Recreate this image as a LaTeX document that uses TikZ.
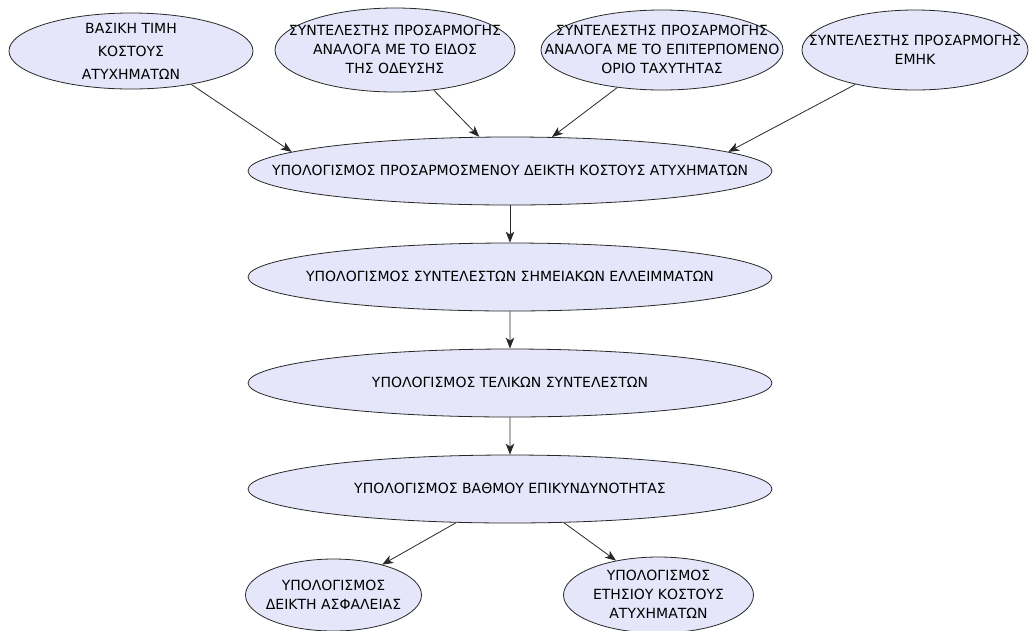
\documentclass[tikz,border=0pt]{standalone}
\usepackage{fontspec}
\setmainfont{DejaVu Sans}
\usetikzlibrary{trees,shapes.geometric,arrows.meta}
\definecolor{ovalfill}{RGB}{230,230,250}
\definecolor{ovalline}{RGB}{40,40,40}
\newcommand{\ovaltext}[1]{\makebox[0pt]{\smash{\raisebox{-0.33em}{\begin{tabular}{@{}c@{}}#1\end{tabular}}}}}

\begin{document}
\begin{tikzpicture}[x=1pt, y=-1pt, level distance=106pt,
  oval/.style={ellipse, draw=ovalline, fill=ovalfill, line width=0.8pt, inner sep=0pt,
    font=\fontsize{14}{19}\selectfont},
  wide/.style={oval, minimum width=524pt, minimum height=68pt},
  leaf/.style={oval, xshift=-14pt},
  arr/.style={draw=ovalline, line width=0.8pt, -{Stealth[length=11pt,width=8.5pt,inset=3pt]}},
  edge from parent/.style={arr},
  level 4/.style={sibling distance=325pt}]
  \useasboundingbox (0,0) rectangle (1030,630);
  \node[oval, minimum width=244pt, minimum height=76pt, font=\fontsize{14}{23}\selectfont] (base) at (131,51)
    {\ovaltext{ΒΑΣΙΚΗ ΤΙΜΗ\\ΚΟΣΤΟΥΣ\\ΑΤΥΧΗΜΑΤΩΝ}};
  \node[oval, minimum width=240pt, minimum height=84pt] (trip) at (395,50)
    {\ovaltext{ΣΥΝΤΕΛΕΣΤΗΣ ΠΡΟΣΑΡΜΟΓΗΣ\\ΑΝΑΛΟΓΑ ΜΕ ΤΟ ΕΙΔΟΣ\\ΤΗΣ ΟΔΕΥΣΗΣ}};
  \node[oval, minimum width=242pt, minimum height=80pt] (speed) at (662,50)
    {\ovaltext{ΣΥΝΤΕΛΕΣΤΗΣ ΠΡΟΣΑΡΜΟΓΗΣ\\ΑΝΑΛΟΓΑ ΜΕ ΤΟ ΕΠΙΤΕΡΠΟΜΕΝΟ\\ΟΡΙΟ ΤΑΧΥΤΗΤΑΣ}};
  \node[oval, minimum width=226pt, minimum height=80pt] (emhk) at (915,50)
    {\ovaltext{ΣΥΝΤΕΛΕΣΤΗΣ ΠΡΟΣΑΡΜΟΓΗΣ\\ΕΜΗΚ}};
  \node[wide] (adjidx) at (510,171) {\ovaltext{ΥΠΟΛΟΓΙΣΜΟΣ ΠΡΟΣΑΡΜΟΣΜΕΝΟΥ ΔΕΙΚΤΗ ΚΟΣΤΟΥΣ ΑΤΥΧΗΜΑΤΩΝ}}
    child {node[wide] (spot) {\ovaltext{ΥΠΟΛΟΓΙΣΜΟΣ ΣΥΝΤΕΛΕΣΤΩΝ ΣΗΜΕΙΑΚΩΝ ΕΛΛΕΙΜΜΑΤΩΝ}}
      child {node[wide] (final) {\ovaltext{ΥΠΟΛΟΓΙΣΜΟΣ ΤΕΛΙΚΩΝ ΣΥΝΤΕΛΕΣΤΩΝ}}
        child {node[wide] (risk) {\ovaltext{ΥΠΟΛΟΓΙΣΜΟΣ ΒΑΘΜΟΥ ΕΠΙΚΥΝΔΥΝΟΤΗΤΑΣ}}
          child[parent anchor=212, child anchor=32] {node[leaf, minimum width=176pt, minimum height=72pt] (safety)
            {\ovaltext{ΥΠΟΛΟΓΙΣΜΟΣ\\ΔΕΙΚΤΗ ΑΣΦΑΛΕΙΑΣ}}}
          child[parent anchor=-32, child anchor=141] {node[leaf, minimum width=190pt, minimum height=76pt] (annual)
            {\ovaltext{ΥΠΟΛΟΓΙΣΜΟΣ\\ΕΤΗΣΙΟΥ ΚΟΣΤΟΥΣ\\ΑΤΥΧΗΜΑΤΩΝ}}}
        }
      }
    };
  \draw[arr] (base.-29) -- (adjidx.175);
  \draw[arr] (trip.-46) -- (adjidx.132);
  \draw[arr] (speed.220) -- (adjidx.39);
  \draw[arr] (emhk.210) -- (adjidx.5);
\end{tikzpicture}
\end{document}
